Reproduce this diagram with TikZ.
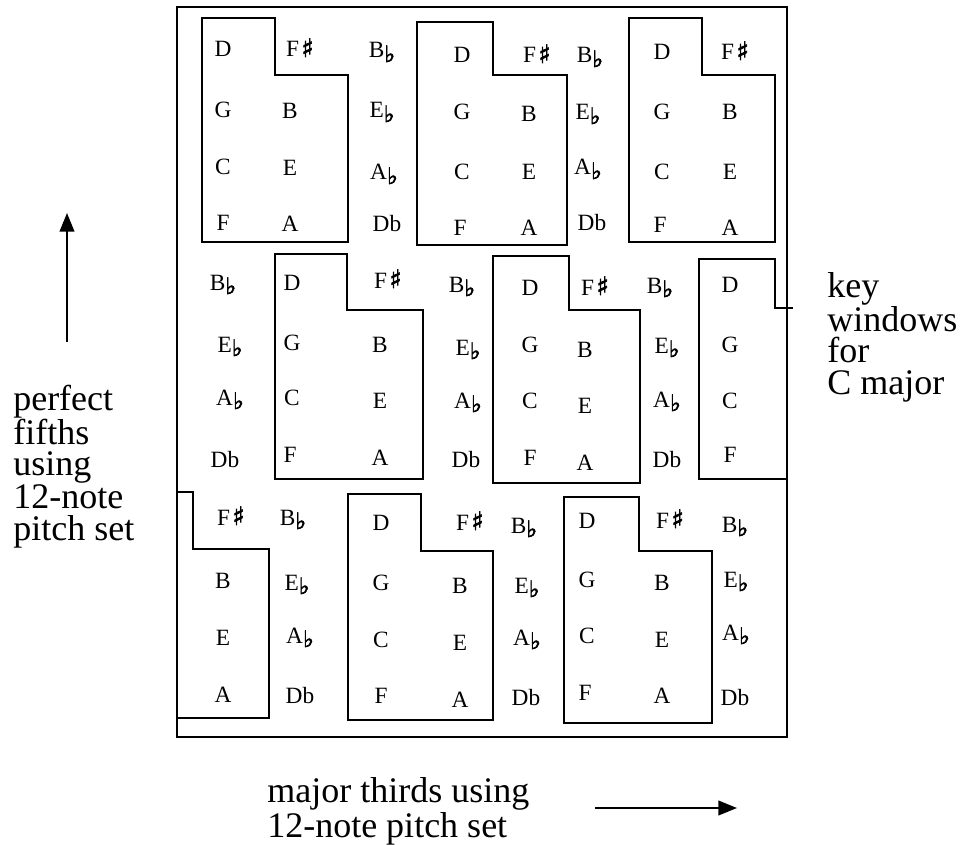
\documentclass[tikz,border=0pt]{standalone}
\usepackage{fontspec}
\setmainfont{Liberation Serif}
\newfontfamily\accfont{DejaVu Sans Bold}[FakeBold=2.5]
\usetikzlibrary{arrows.meta}
% accidentals
\newcommand\fl{{\accfont\fontsize{17}{17}\selectfont\raisebox{-0.18em}{♭}}}
\newcommand\sh{\kern0.1em{\accfont\fontsize{19}{19}\selectfont♯}}
\begin{document}
\begin{tikzpicture}[x=0.75pt,y=-0.75pt,
  note/.style={font=\fontsize{17.5}{17.5}\selectfont, anchor=base, inner sep=0pt},
  caption/.style={font=\fontsize{27}{23.3}\selectfont, align=left, anchor=base west, inner sep=0pt},
  frame/.style={draw, line width=1.5pt},
  window/.style={draw, line width=2pt, line join=miter},
  axis/.style={line width=1.5pt, -{Triangle[length=14pt,width=11pt]}}]
\useasboundingbox (0,0) rectangle (964,845);

% outer frame
\draw[frame] (177,7) rectangle (787,737);

% key windows (C major)
\draw[window] (202,18) -- (275,18) -- (275,75) -- (348,75) -- (348,242) -- (202,242) -- cycle;
\draw[window] (417,22) -- (493,22) -- (493,75) -- (567,75) -- (567,245) -- (417,245) -- cycle;
\draw[window] (629,18) -- (702,18) -- (702,75) -- (775,75) -- (775,242) -- (629,242) -- cycle;
\draw[window] (275,254) -- (347,254) -- (347,310) -- (423,310) -- (423,479) -- (275,479) -- cycle;
\draw[window] (493,256) -- (569,256) -- (569,310) -- (640,310) -- (640,483) -- (493,483) -- cycle;
\draw[window] (699,259) -- (775,259) -- (775,308) -- (787,308) -- (787,479) -- (699,479) -- cycle;
\draw[window] (177,492) -- (193,492) -- (193,549) -- (269,549) -- (269,718) -- (177,718) -- cycle;
\draw[window] (348,494) -- (421,494) -- (421,551) -- (493,551) -- (493,720) -- (348,720) -- cycle;
\draw[window] (564,497) -- (639,497) -- (639,551) -- (712,551) -- (712,723) -- (564,723) -- cycle;

% note names
\foreach \nm/\x/\y/\t in {
  a1/223/57/D, a2/300/57/{F\sh}, a3/382/58/{B\fl},
  a4/223/118/G, a5/290/119/B, a6/382/118/{E\fl},
  a7/223/175/C, a8/290/176/E, a9/384/180/{A\fl},
  a10/223/230/F, a11/290/232/A, a12/387/232/Db,
  b1/462/63/D, b2/537/63/{F\sh}, b3/590/63/{B\fl},
  b4/462/120/G, b5/529/122/B, b6/588/120/{E\fl},
  b7/462/180/C, b8/529/180/E, b9/588/175/{A\fl},
  b10/460/235/F, b11/529/235/A, b12/592/230/Db,
  c1/662/60/D, c2/735/60/{F\sh},
  c4/662/120/G, c5/730/120/B,
  c7/662/180/C, c8/730/180/E,
  c10/660/233/F, c11/730/235/A,
  d1/223/290/{B\fl}, d2/292/290/D, d3/388/288/{F\sh}, d4/462/292/{B\fl},
  d5/230/352/{E\fl}, d6/292/350/G, d7/380/352/B, d8/468/355/{E\fl},
  d9/230/405/{A\fl}, d10/292/405/C, d11/380/408/E, d12/468/408/{A\fl},
  d13/225/467/Db, d14/290/462/F, d15/380/465/A, d16/466/467/Db,
  e1/530/295/D, e2/595/295/{F\sh}, e3/660/293/{B\fl},
  e4/530/352/G, e5/585/357/B, e6/667/353/{E\fl},
  e7/530/408/C, e8/585/413/E, e9/667/407/{A\fl},
  e10/530/465/F, e11/585/470/A, e12/667/467/Db,
  f1/730/292/D, f2/730/352/G, f3/730/408/C, f4/730/462/F,
  g1/231/525/{F\sh}, g2/293/525/{B\fl},
  g3/223/588/B, g4/297/590/{E\fl},
  g5/223/645/E, g6/300/643/{A\fl},
  g7/223/702/A, g8/300/703/Db,
  h1/381/530/D, h2/470/530/{F\sh}, h3/524/533/{B\fl},
  h4/381/590/G, h5/460/593/B, h6/527/593/{E\fl},
  h7/381/647/C, h8/460/650/E, h9/527/645/{A\fl},
  h10/381/703/F, h11/460/707/A, h12/526/705/Db,
  i1/587/528/D, i2/670/528/{F\sh}, i3/735/532/{B\fl},
  i4/587/587/G, i5/662/590/B, i6/736/587/{E\fl},
  i7/587/643/C, i8/662/647/E, i9/736/640/{A\fl},
  i10/585/700/F, i11/662/703/A, i12/735/705/Db}
  \node[note] (\nm) at (\x,\y) {\t};

% leader to the caption on the right (base anchor sits on the last line)
\coordinate (lead) at (793,308);
\draw[line width=1.5pt] (787,308) -- (lead);
\node[caption] (keycap) at (827,394) {key\\windows\\for\\C major};

% axis arrows and captions
\coordinate (upfrom) at (67,342);
\coordinate (upto) at (67,213);
\draw[axis] (upfrom) -- (upto);
\node[caption] (fifths) at (13,540) {perfect\\fifths\\using\\12-note\\pitch set};

\coordinate (rtfrom) at (595,808);
\coordinate (rtto) at (737,808);
\draw[axis] (rtfrom) -- (rtto);
\node[caption] (thirds) at (267,837) {major thirds using\\12-note pitch set};
\end{tikzpicture}
\end{document}
